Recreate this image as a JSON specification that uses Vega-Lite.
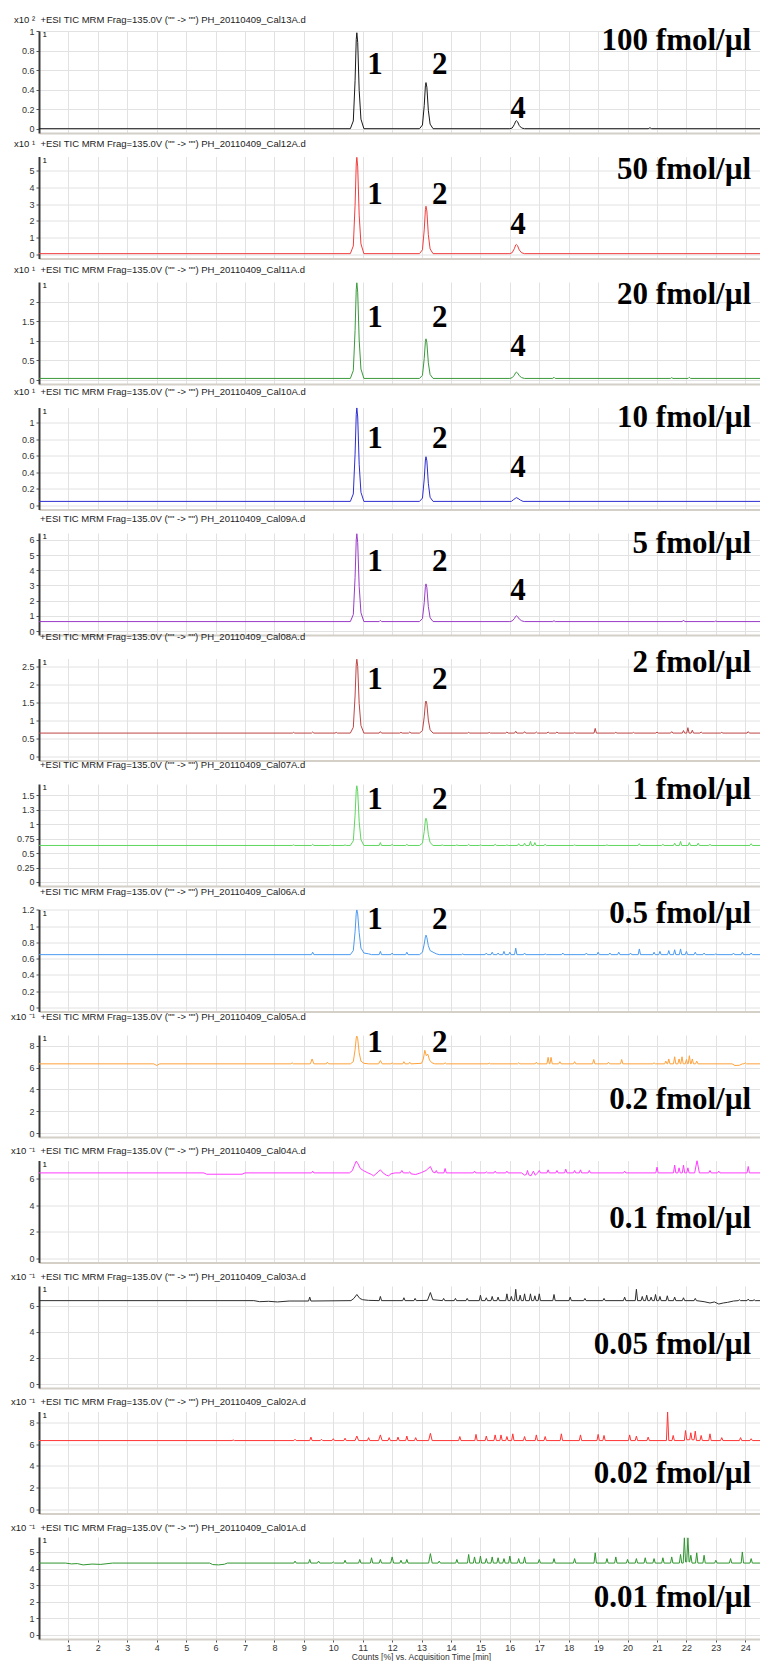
{
"$schema": "https://vega.github.io/schema/vega-lite/v6.json",
"background": "white",
"padding": {"left": 11, "top": 14, "right": 0, "bottom": 0},
"datasets": {
"p1": [{"t":0,"v":0.003},{"t":10.58,"v":0.003},{"t":10.68,"v":0.082},{"t":10.74,"v":0.494},{"t":10.78,"v":0.916},{"t":10.8,"v":0.985},{"t":10.83,"v":0.887},{"t":10.88,"v":0.396},{"t":10.94,"v":0.101},{"t":11.04,"v":0.003},{"t":12.93,"v":0.003},{"t":13.03,"v":0.041},{"t":13.09,"v":0.239},{"t":13.13,"v":0.442},{"t":13.15,"v":0.475},{"t":13.18,"v":0.428},{"t":13.23,"v":0.192},{"t":13.29,"v":0.05},{"t":13.39,"v":0.003},{"t":16.0,"v":0.003},{"t":16.08,"v":0.01},{"t":16.15,"v":0.045},{"t":16.2,"v":0.08},{"t":16.22,"v":0.085},{"t":16.26,"v":0.075},{"t":16.32,"v":0.035},{"t":16.4,"v":0.01},{"t":16.5,"v":0.003},{"t":20.7,"v":0.003},{"t":20.76,"v":0.012},{"t":20.82,"v":0.003},{"t":24.5,"v":0.003}],
"p2": [{"t":0,"v":0.05},{"t":10.58,"v":0.05},{"t":10.68,"v":0.51},{"t":10.74,"v":2.93},{"t":10.78,"v":5.4},{"t":10.8,"v":5.8},{"t":10.83,"v":5.23},{"t":10.88,"v":2.35},{"t":10.94,"v":0.63},{"t":11.04,"v":0.05},{"t":12.93,"v":0.05},{"t":13.03,"v":0.28},{"t":13.09,"v":1.47},{"t":13.13,"v":2.68},{"t":13.15,"v":2.88},{"t":13.18,"v":2.6},{"t":13.23,"v":1.18},{"t":13.29,"v":0.33},{"t":13.39,"v":0.05},{"t":16.0,"v":0.05},{"t":16.08,"v":0.11},{"t":16.15,"v":0.34},{"t":16.2,"v":0.57},{"t":16.22,"v":0.6},{"t":16.26,"v":0.53},{"t":16.32,"v":0.27},{"t":16.4,"v":0.1},{"t":16.5,"v":0.05},{"t":24.5,"v":0.05}],
"p3": [{"t":0,"v":0.04},{"t":10.58,"v":0.04},{"t":10.68,"v":0.24},{"t":10.74,"v":1.26},{"t":10.78,"v":2.31},{"t":10.8,"v":2.48},{"t":10.83,"v":2.24},{"t":10.88,"v":1.02},{"t":10.94,"v":0.28},{"t":11.04,"v":0.04},{"t":12.93,"v":0.04},{"t":13.03,"v":0.12},{"t":13.09,"v":0.55},{"t":13.13,"v":0.98},{"t":13.15,"v":1.05},{"t":13.18,"v":0.95},{"t":13.23,"v":0.44},{"t":13.29,"v":0.14},{"t":13.39,"v":0.04},{"t":16.0,"v":0.04},{"t":16.08,"v":0.06},{"t":16.15,"v":0.12},{"t":16.2,"v":0.19},{"t":16.22,"v":0.2},{"t":16.26,"v":0.18},{"t":16.32,"v":0.11},{"t":16.4,"v":0.06},{"t":16.5,"v":0.04},{"t":17.46,"v":0.04},{"t":17.5,"v":0.07},{"t":17.54,"v":0.04},{"t":21.46,"v":0.04},{"t":21.5,"v":0.06},{"t":21.54,"v":0.04},{"t":22.06,"v":0.04},{"t":22.1,"v":0.07},{"t":22.14,"v":0.04},{"t":24.5,"v":0.04}],
"p4": [{"t":0,"v":0.05},{"t":10.58,"v":0.05},{"t":10.68,"v":0.14},{"t":10.74,"v":0.62},{"t":10.78,"v":1.1},{"t":10.8,"v":1.18},{"t":10.83,"v":1.07},{"t":10.88,"v":0.5},{"t":10.94,"v":0.16},{"t":11.04,"v":0.05},{"t":12.93,"v":0.05},{"t":13.03,"v":0.09},{"t":13.09,"v":0.32},{"t":13.13,"v":0.55},{"t":13.15,"v":0.59},{"t":13.18,"v":0.54},{"t":13.23,"v":0.27},{"t":13.29,"v":0.1},{"t":13.39,"v":0.05},{"t":16.05,"v":0.05},{"t":16.12,"v":0.07},{"t":16.2,"v":0.09},{"t":16.22,"v":0.095},{"t":16.28,"v":0.085},{"t":16.36,"v":0.065},{"t":16.45,"v":0.05},{"t":24.5,"v":0.05}],
"p5": [{"t":0,"v":0.62},{"t":10.58,"v":0.62},{"t":10.68,"v":1.08},{"t":10.74,"v":3.51},{"t":10.78,"v":6.0},{"t":10.8,"v":6.4},{"t":10.83,"v":5.82},{"t":10.88,"v":2.93},{"t":10.94,"v":1.2},{"t":11.04,"v":0.62},{"t":11.56,"v":0.62},{"t":11.6,"v":0.7},{"t":11.64,"v":0.62},{"t":12.93,"v":0.62},{"t":13.03,"v":0.82},{"t":13.09,"v":1.86},{"t":13.13,"v":2.93},{"t":13.15,"v":3.1},{"t":13.18,"v":2.85},{"t":13.23,"v":1.61},{"t":13.29,"v":0.87},{"t":13.39,"v":0.62},{"t":16.0,"v":0.62},{"t":16.08,"v":0.66},{"t":16.15,"v":0.81},{"t":16.2,"v":0.97},{"t":16.22,"v":1.0},{"t":16.26,"v":0.95},{"t":16.32,"v":0.79},{"t":16.4,"v":0.67},{"t":16.5,"v":0.62},{"t":17.46,"v":0.62},{"t":17.5,"v":0.68},{"t":17.54,"v":0.62},{"t":21.86,"v":0.62},{"t":21.9,"v":0.72},{"t":21.94,"v":0.62},{"t":22.96,"v":0.62},{"t":23.0,"v":0.66},{"t":23.04,"v":0.62},{"t":24.5,"v":0.62}],
"p6": [{"t":0,"v":0.65},{"t":8.61,"v":0.65},{"t":8.65,"v":0.67},{"t":8.69,"v":0.65},{"t":9.26,"v":0.65},{"t":9.3,"v":0.68},{"t":9.34,"v":0.65},{"t":10.06,"v":0.65},{"t":10.1,"v":0.67},{"t":10.14,"v":0.65},{"t":10.58,"v":0.65},{"t":10.68,"v":0.81},{"t":10.74,"v":1.68},{"t":10.78,"v":2.56},{"t":10.8,"v":2.7},{"t":10.83,"v":2.5},{"t":10.88,"v":1.47},{"t":10.94,"v":0.86},{"t":11.04,"v":0.65},{"t":11.56,"v":0.65},{"t":11.6,"v":0.69},{"t":11.64,"v":0.65},{"t":12.26,"v":0.65},{"t":12.3,"v":0.67},{"t":12.34,"v":0.65},{"t":12.56,"v":0.65},{"t":12.6,"v":0.68},{"t":12.64,"v":0.65},{"t":12.93,"v":0.65},{"t":13.03,"v":0.72},{"t":13.09,"v":1.1},{"t":13.13,"v":1.48},{"t":13.15,"v":1.54},{"t":13.18,"v":1.45},{"t":13.23,"v":1.01},{"t":13.29,"v":0.74},{"t":13.39,"v":0.65},{"t":14.56,"v":0.65},{"t":14.6,"v":0.67},{"t":14.64,"v":0.65},{"t":15.26,"v":0.65},{"t":15.3,"v":0.67},{"t":15.34,"v":0.65},{"t":15.86,"v":0.65},{"t":15.9,"v":0.68},{"t":15.94,"v":0.65},{"t":16.16,"v":0.65},{"t":16.2,"v":0.7},{"t":16.24,"v":0.65},{"t":16.46,"v":0.65},{"t":16.5,"v":0.69},{"t":16.54,"v":0.65},{"t":16.86,"v":0.65},{"t":16.9,"v":0.68},{"t":16.94,"v":0.65},{"t":17.26,"v":0.65},{"t":17.3,"v":0.68},{"t":17.34,"v":0.65},{"t":17.56,"v":0.65},{"t":17.6,"v":0.68},{"t":17.64,"v":0.65},{"t":18.16,"v":0.65},{"t":18.2,"v":0.67},{"t":18.24,"v":0.65},{"t":18.86,"v":0.65},{"t":18.9,"v":0.78},{"t":18.94,"v":0.65},{"t":19.56,"v":0.65},{"t":19.6,"v":0.67},{"t":19.64,"v":0.65},{"t":20.16,"v":0.65},{"t":20.2,"v":0.67},{"t":20.24,"v":0.65},{"t":20.96,"v":0.65},{"t":21.0,"v":0.68},{"t":21.04,"v":0.65},{"t":21.46,"v":0.65},{"t":21.5,"v":0.69},{"t":21.54,"v":0.65},{"t":21.86,"v":0.65},{"t":21.9,"v":0.72},{"t":21.94,"v":0.65},{"t":22.01,"v":0.65},{"t":22.05,"v":0.8},{"t":22.09,"v":0.65},{"t":22.16,"v":0.65},{"t":22.2,"v":0.73},{"t":22.24,"v":0.65},{"t":22.46,"v":0.65},{"t":22.5,"v":0.68},{"t":22.54,"v":0.65},{"t":23.16,"v":0.65},{"t":23.2,"v":0.67},{"t":23.24,"v":0.65},{"t":24.06,"v":0.65},{"t":24.1,"v":0.69},{"t":24.14,"v":0.65},{"t":24.5,"v":0.65}],
"p7": [{"t":0,"v":0.63},{"t":8.61,"v":0.63},{"t":8.65,"v":0.64},{"t":8.69,"v":0.63},{"t":9.26,"v":0.63},{"t":9.3,"v":0.65},{"t":9.34,"v":0.63},{"t":9.86,"v":0.63},{"t":9.9,"v":0.64},{"t":9.94,"v":0.63},{"t":10.36,"v":0.63},{"t":10.4,"v":0.64},{"t":10.44,"v":0.63},{"t":10.58,"v":0.63},{"t":10.68,"v":0.71},{"t":10.74,"v":1.15},{"t":10.78,"v":1.59},{"t":10.8,"v":1.66},{"t":10.83,"v":1.56},{"t":10.88,"v":1.04},{"t":10.94,"v":0.73},{"t":11.04,"v":0.63},{"t":11.56,"v":0.63},{"t":11.6,"v":0.68},{"t":11.64,"v":0.63},{"t":11.96,"v":0.63},{"t":12.0,"v":0.65},{"t":12.04,"v":0.63},{"t":12.46,"v":0.63},{"t":12.5,"v":0.65},{"t":12.54,"v":0.63},{"t":12.93,"v":0.63},{"t":13.03,"v":0.67},{"t":13.09,"v":0.87},{"t":13.13,"v":1.07},{"t":13.15,"v":1.1},{"t":13.18,"v":1.05},{"t":13.23,"v":0.82},{"t":13.29,"v":0.68},{"t":13.39,"v":0.63},{"t":13.66,"v":0.63},{"t":13.7,"v":0.64},{"t":13.74,"v":0.63},{"t":14.16,"v":0.63},{"t":14.2,"v":0.64},{"t":14.24,"v":0.63},{"t":14.56,"v":0.63},{"t":14.6,"v":0.65},{"t":14.64,"v":0.63},{"t":14.96,"v":0.63},{"t":15.0,"v":0.64},{"t":15.04,"v":0.63},{"t":15.46,"v":0.63},{"t":15.5,"v":0.65},{"t":15.54,"v":0.63},{"t":15.86,"v":0.63},{"t":15.9,"v":0.64},{"t":15.94,"v":0.63},{"t":16.26,"v":0.63},{"t":16.3,"v":0.66},{"t":16.34,"v":0.63},{"t":16.46,"v":0.63},{"t":16.5,"v":0.67},{"t":16.54,"v":0.63},{"t":16.66,"v":0.63},{"t":16.7,"v":0.7},{"t":16.74,"v":0.63},{"t":16.81,"v":0.63},{"t":16.85,"v":0.68},{"t":16.89,"v":0.63},{"t":17.16,"v":0.63},{"t":17.2,"v":0.65},{"t":17.24,"v":0.63},{"t":18.16,"v":0.63},{"t":18.2,"v":0.64},{"t":18.24,"v":0.63},{"t":19.26,"v":0.63},{"t":19.3,"v":0.64},{"t":19.34,"v":0.63},{"t":20.36,"v":0.63},{"t":20.4,"v":0.66},{"t":20.44,"v":0.63},{"t":21.16,"v":0.63},{"t":21.2,"v":0.65},{"t":21.24,"v":0.63},{"t":21.56,"v":0.63},{"t":21.6,"v":0.67},{"t":21.64,"v":0.63},{"t":21.76,"v":0.63},{"t":21.8,"v":0.7},{"t":21.84,"v":0.63},{"t":22.06,"v":0.63},{"t":22.1,"v":0.68},{"t":22.14,"v":0.63},{"t":22.36,"v":0.63},{"t":22.4,"v":0.67},{"t":22.44,"v":0.63},{"t":22.76,"v":0.63},{"t":22.8,"v":0.65},{"t":22.84,"v":0.63},{"t":24.16,"v":0.63},{"t":24.2,"v":0.66},{"t":24.24,"v":0.63},{"t":24.5,"v":0.63}],
"p8": [{"t":0,"v":0.65},{"t":9.26,"v":0.65},{"t":9.3,"v":0.68},{"t":9.34,"v":0.65},{"t":10.58,"v":0.65},{"t":10.68,"v":0.7},{"t":10.74,"v":0.93},{"t":10.78,"v":1.16},{"t":10.8,"v":1.2},{"t":10.83,"v":1.15},{"t":10.88,"v":0.92},{"t":10.94,"v":0.73},{"t":11.04,"v":0.67},{"t":11.2,"v":0.66},{"t":11.3,"v":0.65},{"t":11.56,"v":0.65},{"t":11.6,"v":0.69},{"t":11.64,"v":0.65},{"t":11.96,"v":0.65},{"t":12.0,"v":0.67},{"t":12.04,"v":0.65},{"t":12.46,"v":0.65},{"t":12.5,"v":0.68},{"t":12.54,"v":0.65},{"t":12.93,"v":0.65},{"t":13.03,"v":0.68},{"t":13.09,"v":0.78},{"t":13.13,"v":0.87},{"t":13.15,"v":0.89},{"t":13.18,"v":0.86},{"t":13.23,"v":0.76},{"t":13.29,"v":0.7},{"t":13.39,"v":0.68},{"t":13.5,"v":0.66},{"t":13.6,"v":0.65},{"t":14.36,"v":0.65},{"t":14.4,"v":0.66},{"t":14.44,"v":0.65},{"t":15.16,"v":0.65},{"t":15.2,"v":0.67},{"t":15.24,"v":0.65},{"t":15.36,"v":0.65},{"t":15.4,"v":0.68},{"t":15.44,"v":0.65},{"t":15.56,"v":0.65},{"t":15.6,"v":0.67},{"t":15.64,"v":0.65},{"t":15.76,"v":0.65},{"t":15.8,"v":0.69},{"t":15.84,"v":0.65},{"t":15.96,"v":0.65},{"t":16.0,"v":0.68},{"t":16.04,"v":0.65},{"t":16.16,"v":0.65},{"t":16.2,"v":0.73},{"t":16.24,"v":0.65},{"t":16.46,"v":0.65},{"t":16.5,"v":0.67},{"t":16.54,"v":0.65},{"t":17.16,"v":0.65},{"t":17.2,"v":0.66},{"t":17.24,"v":0.65},{"t":17.76,"v":0.65},{"t":17.8,"v":0.67},{"t":17.84,"v":0.65},{"t":18.56,"v":0.65},{"t":18.6,"v":0.67},{"t":18.64,"v":0.65},{"t":18.96,"v":0.65},{"t":19.0,"v":0.68},{"t":19.04,"v":0.65},{"t":19.36,"v":0.65},{"t":19.4,"v":0.67},{"t":19.44,"v":0.65},{"t":19.66,"v":0.65},{"t":19.7,"v":0.68},{"t":19.74,"v":0.65},{"t":20.06,"v":0.65},{"t":20.1,"v":0.67},{"t":20.14,"v":0.65},{"t":20.36,"v":0.65},{"t":20.4,"v":0.72},{"t":20.44,"v":0.65},{"t":20.86,"v":0.65},{"t":20.9,"v":0.68},{"t":20.94,"v":0.65},{"t":21.06,"v":0.65},{"t":21.1,"v":0.69},{"t":21.14,"v":0.65},{"t":21.36,"v":0.65},{"t":21.4,"v":0.7},{"t":21.44,"v":0.65},{"t":21.56,"v":0.65},{"t":21.6,"v":0.71},{"t":21.64,"v":0.65},{"t":21.76,"v":0.65},{"t":21.8,"v":0.72},{"t":21.84,"v":0.65},{"t":21.96,"v":0.65},{"t":22.0,"v":0.69},{"t":22.04,"v":0.65},{"t":22.26,"v":0.65},{"t":22.3,"v":0.68},{"t":22.34,"v":0.65},{"t":22.56,"v":0.65},{"t":22.6,"v":0.67},{"t":22.64,"v":0.65},{"t":22.96,"v":0.65},{"t":23.0,"v":0.66},{"t":23.04,"v":0.65},{"t":23.56,"v":0.65},{"t":23.6,"v":0.67},{"t":23.64,"v":0.65},{"t":23.86,"v":0.65},{"t":23.9,"v":0.68},{"t":23.94,"v":0.65},{"t":24.16,"v":0.65},{"t":24.2,"v":0.67},{"t":24.24,"v":0.65},{"t":24.5,"v":0.65}],
"p9": [{"t":0,"v":6.35},{"t":3.9,"v":6.35},{"t":4.0,"v":6.2},{"t":4.1,"v":6.35},{"t":8.56,"v":6.35},{"t":8.6,"v":6.45},{"t":8.64,"v":6.35},{"t":9.22,"v":6.35},{"t":9.28,"v":6.8},{"t":9.34,"v":6.35},{"t":9.76,"v":6.35},{"t":9.8,"v":6.5},{"t":9.84,"v":6.35},{"t":10.58,"v":6.35},{"t":10.68,"v":6.55},{"t":10.74,"v":7.63},{"t":10.78,"v":8.72},{"t":10.8,"v":8.9},{"t":10.83,"v":8.65},{"t":10.88,"v":7.37},{"t":10.94,"v":6.6},{"t":11.04,"v":6.4},{"t":11.2,"v":6.35},{"t":11.54,"v":6.35},{"t":11.6,"v":6.65},{"t":11.66,"v":6.35},{"t":11.96,"v":6.35},{"t":12.0,"v":6.45},{"t":12.04,"v":6.35},{"t":12.36,"v":6.35},{"t":12.4,"v":6.55},{"t":12.44,"v":6.35},{"t":12.56,"v":6.35},{"t":12.6,"v":6.5},{"t":12.64,"v":6.35},{"t":13.0,"v":6.4},{"t":13.06,"v":6.8},{"t":13.11,"v":7.6},{"t":13.16,"v":7.1},{"t":13.21,"v":7.25},{"t":13.27,"v":6.7},{"t":13.35,"v":6.45},{"t":13.45,"v":6.35},{"t":13.76,"v":6.35},{"t":13.8,"v":6.45},{"t":13.84,"v":6.35},{"t":15.26,"v":6.35},{"t":15.3,"v":6.42},{"t":15.34,"v":6.35},{"t":16.26,"v":6.35},{"t":16.3,"v":6.45},{"t":16.34,"v":6.35},{"t":16.86,"v":6.35},{"t":16.9,"v":6.5},{"t":16.94,"v":6.35},{"t":17.26,"v":6.35},{"t":17.3,"v":6.95},{"t":17.34,"v":6.35},{"t":17.36,"v":6.35},{"t":17.4,"v":6.95},{"t":17.44,"v":6.35},{"t":17.66,"v":6.35},{"t":17.7,"v":6.55},{"t":17.74,"v":6.35},{"t":18.16,"v":6.35},{"t":18.2,"v":6.55},{"t":18.24,"v":6.35},{"t":18.81,"v":6.35},{"t":18.85,"v":6.75},{"t":18.89,"v":6.35},{"t":19.31,"v":6.35},{"t":19.35,"v":6.5},{"t":19.39,"v":6.35},{"t":19.76,"v":6.35},{"t":19.8,"v":6.75},{"t":19.84,"v":6.35},{"t":20.86,"v":6.35},{"t":20.9,"v":6.45},{"t":20.94,"v":6.35},{"t":21.26,"v":6.35},{"t":21.3,"v":6.6},{"t":21.34,"v":6.35},{"t":21.36,"v":6.35},{"t":21.4,"v":6.8},{"t":21.44,"v":6.35},{"t":21.56,"v":6.35},{"t":21.6,"v":7.0},{"t":21.64,"v":6.35},{"t":21.71,"v":6.35},{"t":21.75,"v":6.8},{"t":21.79,"v":6.35},{"t":21.81,"v":6.35},{"t":21.85,"v":7.0},{"t":21.89,"v":6.35},{"t":21.96,"v":6.35},{"t":22.0,"v":6.75},{"t":22.04,"v":6.35},{"t":22.06,"v":6.35},{"t":22.1,"v":7.1},{"t":22.14,"v":6.35},{"t":22.16,"v":6.35},{"t":22.2,"v":6.8},{"t":22.24,"v":6.35},{"t":22.31,"v":6.35},{"t":22.35,"v":6.6},{"t":22.39,"v":6.35},{"t":23.55,"v":6.35},{"t":23.65,"v":6.2},{"t":23.8,"v":6.22},{"t":23.9,"v":6.35},{"t":23.96,"v":6.35},{"t":24.0,"v":6.45},{"t":24.04,"v":6.35},{"t":24.5,"v":6.35}],
"p10": [{"t":0,"v":6.42},{"t":5.6,"v":6.42},{"t":5.7,"v":6.32},{"t":6.9,"v":6.32},{"t":7.0,"v":6.42},{"t":9.26,"v":6.42},{"t":9.3,"v":6.55},{"t":9.34,"v":6.42},{"t":10.55,"v":6.42},{"t":10.65,"v":6.6},{"t":10.72,"v":7.0},{"t":10.78,"v":7.3},{"t":10.84,"v":7.1},{"t":10.92,"v":6.75},{"t":11.02,"v":6.6},{"t":11.15,"v":6.45},{"t":11.3,"v":6.3},{"t":11.37,"v":6.2},{"t":11.45,"v":6.35},{"t":11.55,"v":6.55},{"t":11.6,"v":6.65},{"t":11.7,"v":6.4},{"t":11.8,"v":6.25},{"t":11.88,"v":6.2},{"t":11.96,"v":6.35},{"t":12.1,"v":6.42},{"t":12.28,"v":6.42},{"t":12.33,"v":6.6},{"t":12.38,"v":6.42},{"t":12.56,"v":6.42},{"t":12.6,"v":6.5},{"t":12.64,"v":6.35},{"t":12.8,"v":6.3},{"t":13.0,"v":6.45},{"t":13.15,"v":6.6},{"t":13.3,"v":6.9},{"t":13.38,"v":6.5},{"t":13.46,"v":6.42},{"t":13.5,"v":6.6},{"t":13.54,"v":6.42},{"t":13.76,"v":6.42},{"t":13.8,"v":6.75},{"t":13.84,"v":6.42},{"t":14.76,"v":6.42},{"t":14.8,"v":6.55},{"t":14.84,"v":6.42},{"t":15.16,"v":6.42},{"t":15.2,"v":6.5},{"t":15.24,"v":6.42},{"t":15.46,"v":6.42},{"t":15.5,"v":6.55},{"t":15.54,"v":6.42},{"t":15.86,"v":6.42},{"t":15.9,"v":6.55},{"t":15.94,"v":6.42},{"t":16.4,"v":6.42},{"t":16.5,"v":6.25},{"t":16.56,"v":6.3},{"t":16.6,"v":6.6},{"t":16.64,"v":6.28},{"t":16.72,"v":6.2},{"t":16.8,"v":6.55},{"t":16.86,"v":6.25},{"t":16.95,"v":6.42},{"t":17.0,"v":6.6},{"t":17.04,"v":6.42},{"t":17.26,"v":6.42},{"t":17.3,"v":6.65},{"t":17.34,"v":6.42},{"t":17.56,"v":6.42},{"t":17.6,"v":6.6},{"t":17.64,"v":6.42},{"t":17.86,"v":6.42},{"t":17.9,"v":6.7},{"t":17.94,"v":6.42},{"t":18.16,"v":6.42},{"t":18.2,"v":6.6},{"t":18.24,"v":6.42},{"t":18.36,"v":6.42},{"t":18.4,"v":6.65},{"t":18.44,"v":6.42},{"t":18.66,"v":6.42},{"t":18.7,"v":6.6},{"t":18.74,"v":6.42},{"t":19.86,"v":6.42},{"t":19.9,"v":6.55},{"t":19.94,"v":6.42},{"t":20.96,"v":6.42},{"t":21.0,"v":6.85},{"t":21.04,"v":6.42},{"t":21.56,"v":6.42},{"t":21.6,"v":7.0},{"t":21.64,"v":6.42},{"t":21.71,"v":6.42},{"t":21.75,"v":6.8},{"t":21.79,"v":6.42},{"t":21.86,"v":6.42},{"t":21.9,"v":7.0},{"t":21.94,"v":6.42},{"t":22.01,"v":6.42},{"t":22.05,"v":6.8},{"t":22.09,"v":6.42},{"t":22.28,"v":6.42},{"t":22.36,"v":7.35},{"t":22.44,"v":6.42},{"t":22.76,"v":6.42},{"t":22.8,"v":6.6},{"t":22.84,"v":6.42},{"t":23.06,"v":6.42},{"t":23.1,"v":6.55},{"t":23.14,"v":6.42},{"t":24.06,"v":6.42},{"t":24.1,"v":6.9},{"t":24.14,"v":6.42},{"t":24.5,"v":6.42}],
"p11": [{"t":0,"v":6.38},{"t":7.3,"v":6.38},{"t":7.5,"v":6.3},{"t":7.8,"v":6.33},{"t":8.1,"v":6.28},{"t":8.5,"v":6.35},{"t":9.16,"v":6.35},{"t":9.2,"v":6.65},{"t":9.24,"v":6.35},{"t":10.6,"v":6.38},{"t":10.7,"v":6.55},{"t":10.8,"v":6.85},{"t":10.9,"v":6.55},{"t":11.0,"v":6.45},{"t":11.2,"v":6.4},{"t":11.56,"v":6.38},{"t":11.6,"v":6.7},{"t":11.64,"v":6.38},{"t":12.36,"v":6.38},{"t":12.4,"v":6.6},{"t":12.44,"v":6.38},{"t":12.74,"v":6.38},{"t":12.78,"v":6.55},{"t":12.82,"v":6.38},{"t":13.2,"v":6.4},{"t":13.3,"v":7.0},{"t":13.38,"v":6.45},{"t":13.71,"v":6.38},{"t":13.75,"v":6.55},{"t":13.79,"v":6.38},{"t":14.11,"v":6.38},{"t":14.15,"v":6.55},{"t":14.19,"v":6.38},{"t":14.51,"v":6.38},{"t":14.55,"v":6.55},{"t":14.59,"v":6.38},{"t":14.96,"v":6.38},{"t":15.0,"v":6.8},{"t":15.04,"v":6.38},{"t":15.16,"v":6.38},{"t":15.2,"v":6.6},{"t":15.24,"v":6.38},{"t":15.36,"v":6.38},{"t":15.4,"v":6.7},{"t":15.44,"v":6.38},{"t":15.56,"v":6.38},{"t":15.6,"v":6.65},{"t":15.64,"v":6.38},{"t":15.86,"v":6.38},{"t":15.9,"v":6.9},{"t":15.94,"v":6.38},{"t":16.01,"v":6.38},{"t":16.05,"v":6.7},{"t":16.09,"v":6.38},{"t":16.16,"v":6.38},{"t":16.2,"v":7.25},{"t":16.24,"v":6.38},{"t":16.31,"v":6.38},{"t":16.35,"v":6.8},{"t":16.39,"v":6.38},{"t":16.46,"v":6.38},{"t":16.5,"v":6.9},{"t":16.54,"v":6.38},{"t":16.66,"v":6.38},{"t":16.7,"v":6.9},{"t":16.74,"v":6.38},{"t":16.81,"v":6.38},{"t":16.85,"v":6.75},{"t":16.89,"v":6.38},{"t":16.96,"v":6.38},{"t":17.0,"v":6.9},{"t":17.04,"v":6.38},{"t":17.46,"v":6.38},{"t":17.5,"v":6.85},{"t":17.54,"v":6.38},{"t":18.01,"v":6.38},{"t":18.05,"v":6.65},{"t":18.09,"v":6.38},{"t":18.51,"v":6.38},{"t":18.55,"v":6.55},{"t":18.59,"v":6.38},{"t":19.16,"v":6.38},{"t":19.2,"v":6.55},{"t":19.24,"v":6.38},{"t":19.86,"v":6.38},{"t":19.9,"v":6.65},{"t":19.94,"v":6.38},{"t":20.26,"v":6.38},{"t":20.3,"v":7.25},{"t":20.34,"v":6.38},{"t":20.46,"v":6.38},{"t":20.5,"v":6.7},{"t":20.54,"v":6.38},{"t":20.61,"v":6.38},{"t":20.65,"v":6.8},{"t":20.69,"v":6.38},{"t":20.76,"v":6.38},{"t":20.8,"v":6.65},{"t":20.84,"v":6.38},{"t":20.91,"v":6.38},{"t":20.95,"v":6.85},{"t":20.99,"v":6.38},{"t":21.06,"v":6.38},{"t":21.1,"v":6.7},{"t":21.14,"v":6.38},{"t":21.31,"v":6.38},{"t":21.35,"v":6.75},{"t":21.39,"v":6.38},{"t":21.56,"v":6.38},{"t":21.6,"v":6.65},{"t":21.64,"v":6.38},{"t":21.86,"v":6.38},{"t":21.9,"v":6.6},{"t":21.94,"v":6.38},{"t":22.26,"v":6.38},{"t":22.3,"v":6.55},{"t":22.34,"v":6.38},{"t":22.6,"v":6.3},{"t":22.8,"v":6.2},{"t":22.95,"v":6.28},{"t":23.1,"v":6.12},{"t":23.25,"v":6.2},{"t":23.4,"v":6.25},{"t":23.6,"v":6.35},{"t":23.76,"v":6.38},{"t":23.8,"v":6.45},{"t":23.84,"v":6.38},{"t":24.06,"v":6.38},{"t":24.1,"v":6.5},{"t":24.14,"v":6.38},{"t":24.26,"v":6.38},{"t":24.3,"v":6.45},{"t":24.34,"v":6.38},{"t":24.5,"v":6.38}],
"p12": [{"t":0,"v":6.33},{"t":6.56,"v":6.33},{"t":6.6,"v":6.38},{"t":6.64,"v":6.33},{"t":8.66,"v":6.33},{"t":8.7,"v":6.45},{"t":8.74,"v":6.33},{"t":9.2,"v":6.33},{"t":9.24,"v":6.65},{"t":9.28,"v":6.33},{"t":9.56,"v":6.33},{"t":9.6,"v":6.45},{"t":9.64,"v":6.33},{"t":9.96,"v":6.33},{"t":10.0,"v":6.5},{"t":10.04,"v":6.33},{"t":10.36,"v":6.33},{"t":10.4,"v":6.55},{"t":10.44,"v":6.33},{"t":10.74,"v":6.33},{"t":10.8,"v":6.75},{"t":10.86,"v":6.33},{"t":11.16,"v":6.33},{"t":11.2,"v":6.6},{"t":11.24,"v":6.33},{"t":11.54,"v":6.33},{"t":11.6,"v":6.85},{"t":11.66,"v":6.33},{"t":11.86,"v":6.33},{"t":11.9,"v":6.6},{"t":11.94,"v":6.33},{"t":12.16,"v":6.33},{"t":12.2,"v":6.65},{"t":12.24,"v":6.33},{"t":12.46,"v":6.33},{"t":12.5,"v":6.75},{"t":12.54,"v":6.33},{"t":12.76,"v":6.33},{"t":12.8,"v":6.6},{"t":12.84,"v":6.33},{"t":13.24,"v":6.33},{"t":13.3,"v":7.0},{"t":13.36,"v":6.33},{"t":14.26,"v":6.33},{"t":14.3,"v":6.7},{"t":14.34,"v":6.33},{"t":14.81,"v":6.33},{"t":14.85,"v":6.9},{"t":14.89,"v":6.33},{"t":15.16,"v":6.33},{"t":15.2,"v":6.75},{"t":15.24,"v":6.33},{"t":15.46,"v":6.33},{"t":15.5,"v":6.85},{"t":15.54,"v":6.33},{"t":15.66,"v":6.33},{"t":15.7,"v":6.85},{"t":15.74,"v":6.33},{"t":15.86,"v":6.33},{"t":15.9,"v":6.7},{"t":15.94,"v":6.33},{"t":16.06,"v":6.33},{"t":16.1,"v":6.95},{"t":16.14,"v":6.33},{"t":16.46,"v":6.33},{"t":16.5,"v":6.7},{"t":16.54,"v":6.33},{"t":16.86,"v":6.33},{"t":16.9,"v":6.85},{"t":16.94,"v":6.33},{"t":17.16,"v":6.33},{"t":17.2,"v":6.7},{"t":17.24,"v":6.33},{"t":17.71,"v":6.33},{"t":17.75,"v":6.95},{"t":17.79,"v":6.33},{"t":18.36,"v":6.33},{"t":18.4,"v":6.85},{"t":18.44,"v":6.33},{"t":18.96,"v":6.33},{"t":19.0,"v":6.9},{"t":19.04,"v":6.33},{"t":19.16,"v":6.33},{"t":19.2,"v":6.8},{"t":19.24,"v":6.33},{"t":20.03,"v":6.33},{"t":20.07,"v":6.85},{"t":20.11,"v":6.33},{"t":20.26,"v":6.33},{"t":20.3,"v":6.75},{"t":20.34,"v":6.33},{"t":20.66,"v":6.33},{"t":20.7,"v":6.65},{"t":20.74,"v":6.33},{"t":21.32,"v":6.33},{"t":21.36,"v":8.95},{"t":21.4,"v":6.33},{"t":21.51,"v":6.33},{"t":21.55,"v":6.8},{"t":21.59,"v":6.33},{"t":21.93,"v":6.33},{"t":21.97,"v":7.25},{"t":22.01,"v":6.4},{"t":22.11,"v":6.4},{"t":22.15,"v":7.05},{"t":22.19,"v":6.4},{"t":22.26,"v":6.4},{"t":22.3,"v":7.2},{"t":22.34,"v":6.33},{"t":22.46,"v":6.33},{"t":22.5,"v":6.8},{"t":22.54,"v":6.33},{"t":22.76,"v":6.33},{"t":22.8,"v":6.95},{"t":22.84,"v":6.33},{"t":23.16,"v":6.33},{"t":23.2,"v":6.6},{"t":23.24,"v":6.33},{"t":23.8,"v":6.33},{"t":23.84,"v":6.6},{"t":23.88,"v":6.33},{"t":24.16,"v":6.33},{"t":24.2,"v":6.5},{"t":24.24,"v":6.33},{"t":24.5,"v":6.33}],
"p13": [{"t":0,"v":4.33},{"t":0.9,"v":4.33},{"t":1.1,"v":4.28},{"t":1.3,"v":4.3},{"t":1.5,"v":4.22},{"t":1.8,"v":4.27},{"t":2.1,"v":4.25},{"t":2.5,"v":4.33},{"t":5.8,"v":4.33},{"t":5.9,"v":4.24},{"t":6.1,"v":4.22},{"t":6.3,"v":4.26},{"t":6.4,"v":4.33},{"t":8.66,"v":4.33},{"t":8.7,"v":4.45},{"t":8.74,"v":4.33},{"t":9.16,"v":4.33},{"t":9.2,"v":4.55},{"t":9.24,"v":4.33},{"t":9.46,"v":4.33},{"t":9.5,"v":4.45},{"t":9.54,"v":4.33},{"t":9.96,"v":4.33},{"t":10.0,"v":4.4},{"t":10.04,"v":4.33},{"t":10.36,"v":4.33},{"t":10.4,"v":4.5},{"t":10.44,"v":4.33},{"t":10.86,"v":4.33},{"t":10.9,"v":4.55},{"t":10.94,"v":4.33},{"t":11.26,"v":4.33},{"t":11.3,"v":4.65},{"t":11.34,"v":4.33},{"t":11.56,"v":4.33},{"t":11.6,"v":4.55},{"t":11.64,"v":4.33},{"t":11.95,"v":4.33},{"t":12.0,"v":4.7},{"t":12.05,"v":4.33},{"t":12.26,"v":4.33},{"t":12.3,"v":4.5},{"t":12.34,"v":4.33},{"t":12.46,"v":4.33},{"t":12.5,"v":4.55},{"t":12.54,"v":4.33},{"t":13.24,"v":4.33},{"t":13.3,"v":4.9},{"t":13.36,"v":4.33},{"t":13.56,"v":4.33},{"t":13.6,"v":4.45},{"t":13.64,"v":4.33},{"t":14.16,"v":4.33},{"t":14.2,"v":4.55},{"t":14.24,"v":4.33},{"t":14.56,"v":4.33},{"t":14.6,"v":4.85},{"t":14.64,"v":4.33},{"t":14.76,"v":4.33},{"t":14.8,"v":4.7},{"t":14.84,"v":4.33},{"t":14.96,"v":4.33},{"t":15.0,"v":4.75},{"t":15.04,"v":4.33},{"t":15.16,"v":4.33},{"t":15.2,"v":4.6},{"t":15.24,"v":4.33},{"t":15.36,"v":4.33},{"t":15.4,"v":4.7},{"t":15.44,"v":4.33},{"t":15.56,"v":4.33},{"t":15.6,"v":4.65},{"t":15.64,"v":4.33},{"t":15.76,"v":4.33},{"t":15.8,"v":4.6},{"t":15.84,"v":4.33},{"t":15.96,"v":4.33},{"t":16.0,"v":4.75},{"t":16.04,"v":4.33},{"t":16.26,"v":4.33},{"t":16.3,"v":4.6},{"t":16.34,"v":4.33},{"t":16.46,"v":4.33},{"t":16.5,"v":4.7},{"t":16.54,"v":4.33},{"t":16.96,"v":4.33},{"t":17.0,"v":4.55},{"t":17.04,"v":4.33},{"t":17.46,"v":4.33},{"t":17.5,"v":4.6},{"t":17.54,"v":4.33},{"t":18.16,"v":4.33},{"t":18.2,"v":4.6},{"t":18.24,"v":4.33},{"t":18.86,"v":4.33},{"t":18.9,"v":4.95},{"t":18.94,"v":4.33},{"t":19.26,"v":4.33},{"t":19.3,"v":4.6},{"t":19.34,"v":4.33},{"t":19.56,"v":4.33},{"t":19.6,"v":4.7},{"t":19.64,"v":4.33},{"t":19.96,"v":4.33},{"t":20.0,"v":4.55},{"t":20.04,"v":4.33},{"t":20.26,"v":4.33},{"t":20.3,"v":4.6},{"t":20.34,"v":4.33},{"t":20.56,"v":4.33},{"t":20.6,"v":4.65},{"t":20.64,"v":4.33},{"t":20.86,"v":4.33},{"t":20.9,"v":4.6},{"t":20.94,"v":4.33},{"t":21.16,"v":4.33},{"t":21.2,"v":4.65},{"t":21.24,"v":4.33},{"t":21.46,"v":4.33},{"t":21.5,"v":4.7},{"t":21.54,"v":4.33},{"t":21.76,"v":4.33},{"t":21.8,"v":4.85},{"t":21.84,"v":4.33},{"t":21.89,"v":4.33},{"t":21.93,"v":5.85},{"t":21.97,"v":4.4},{"t":22.01,"v":4.4},{"t":22.05,"v":5.85},{"t":22.09,"v":4.4},{"t":22.11,"v":4.4},{"t":22.15,"v":4.8},{"t":22.19,"v":4.33},{"t":22.31,"v":4.33},{"t":22.35,"v":4.95},{"t":22.39,"v":4.33},{"t":22.56,"v":4.33},{"t":22.6,"v":4.8},{"t":22.64,"v":4.33},{"t":22.96,"v":4.33},{"t":23.0,"v":4.5},{"t":23.04,"v":4.33},{"t":23.46,"v":4.33},{"t":23.5,"v":4.6},{"t":23.54,"v":4.33},{"t":23.86,"v":4.33},{"t":23.9,"v":5.0},{"t":23.94,"v":4.33},{"t":24.16,"v":4.33},{"t":24.2,"v":4.6},{"t":24.24,"v":4.33},{"t":24.5,"v":4.33}],
"lab": [
{"p":1,"k":"n","t":11.42,"v":0.655,"s":"1"},{"p":1,"k":"n","t":13.62,"v":0.655,"s":"2"},{"p":1,"k":"n","t":16.28,"v":0.2,"s":"4"},{"p":1,"k":"c","t":24.2,"v":0.9,"s":"100 fmol/µl"},{"p":1,"k":"g","t":0.12,"v":1.003,"s":"1"},
{"p":2,"k":"n","t":11.42,"v":3.56,"s":"1"},{"p":2,"k":"n","t":13.62,"v":3.56,"s":"2"},{"p":2,"k":"n","t":16.28,"v":1.75,"s":"4"},{"p":2,"k":"c","t":24.2,"v":5.06,"s":"50 fmol/µl"},{"p":2,"k":"g","t":0.12,"v":5.85,"s":"1"},
{"p":3,"k":"n","t":11.42,"v":1.57,"s":"1"},{"p":3,"k":"n","t":13.62,"v":1.57,"s":"2"},{"p":3,"k":"n","t":16.28,"v":0.84,"s":"4"},{"p":3,"k":"c","t":24.2,"v":2.16,"s":"20 fmol/µl"},{"p":3,"k":"g","t":0.12,"v":2.5,"s":"1"},
{"p":4,"k":"n","t":11.42,"v":0.81,"s":"1"},{"p":4,"k":"n","t":13.62,"v":0.81,"s":"2"},{"p":4,"k":"n","t":16.28,"v":0.45,"s":"4"},{"p":4,"k":"c","t":24.2,"v":1.06,"s":"10 fmol/µl"},{"p":4,"k":"g","t":0.12,"v":1.185,"s":"1"},
{"p":5,"k":"n","t":11.42,"v":4.53,"s":"1"},{"p":5,"k":"n","t":13.62,"v":4.53,"s":"2"},{"p":5,"k":"n","t":16.28,"v":2.6,"s":"4"},{"p":5,"k":"c","t":24.2,"v":5.72,"s":"5 fmol/µl"},{"p":5,"k":"g","t":0.12,"v":6.45,"s":"1"},
{"p":6,"k":"n","t":11.42,"v":2.13,"s":"1"},{"p":6,"k":"n","t":13.62,"v":2.13,"s":"2"},{"p":6,"k":"c","t":24.2,"v":2.6,"s":"2 fmol/µl"},{"p":6,"k":"g","t":0.12,"v":2.72,"s":"1"},
{"p":7,"k":"n","t":11.42,"v":1.41,"s":"1"},{"p":7,"k":"n","t":13.62,"v":1.41,"s":"2"},{"p":7,"k":"c","t":24.2,"v":1.58,"s":"1 fmol/µl"},{"p":7,"k":"g","t":0.12,"v":1.69,"s":"1"},
{"p":8,"k":"n","t":11.42,"v":1.07,"s":"1"},{"p":8,"k":"n","t":13.62,"v":1.07,"s":"2"},{"p":8,"k":"c","t":24.2,"v":1.15,"s":"0.5 fmol/µl"},{"p":8,"k":"g","t":0.12,"v":1.205,"s":"1"},
{"p":9,"k":"n","t":11.42,"v":8.3,"s":"1"},{"p":9,"k":"n","t":13.62,"v":8.3,"s":"2"},{"p":9,"k":"c","t":24.2,"v":3.03,"s":"0.2 fmol/µl"},{"p":9,"k":"g","t":0.12,"v":9.0,"s":"1"},
{"p":10,"k":"c","t":24.2,"v":3.0,"s":"0.1 fmol/µl"},{"p":10,"k":"g","t":0.12,"v":7.35,"s":"1"},
{"p":11,"k":"c","t":24.2,"v":2.95,"s":"0.05 fmol/µl"},{"p":11,"k":"g","t":0.12,"v":7.5,"s":"1"},
{"p":12,"k":"c","t":24.2,"v":3.26,"s":"0.02 fmol/µl"},{"p":12,"k":"g","t":0.12,"v":9.0,"s":"1"},
{"p":13,"k":"c","t":24.2,"v":2.23,"s":"0.01 fmol/µl"},{"p":13,"k":"g","t":0.12,"v":5.9,"s":"1"}
]
},
"spacing": 23.5,
"bounds": "flush",
"vconcat": [
{"title":{"text":"x10 ²\u00a0\u00a0+ESI TIC MRM Frag=135.0V (\"\" -> \"\") PH_20110409_Cal13A.d","dx":-25,"offset":1},"width":721,"height":102,
"encoding":{"x":{"field":"t","type":"quantitative","scale":{"domain":[0,24.5],"nice":false,"zero":false},"axis":{"values":[1,2,3,4,5,6,7,8,9,10,11,12,13,14,15,16,17,18,19,20,21,22,23,24],"labels":false,"ticks":false,"title":null}},
"y":{"field":"v","type":"quantitative","scale":{"domain":[-0.041,1.003],"nice":false,"zero":false},"axis":{"values":[0,0.2,0.4,0.6,0.8,1],"title":null}}},
"layer":[
{"data":{"name":"p1"},"mark":{"type":"line","color":"#1a1a1a","strokeWidth":1,"clip":true}},
{"data":{"name":"lab"},"transform":[{"filter":"datum.p==1 && datum.k=='n'"}],"mark":{"type":"text","style":"pk"},"encoding":{"text":{"field":"s"}}},
{"data":{"name":"lab"},"transform":[{"filter":"datum.p==1 && datum.k=='c'"}],"mark":{"type":"text","style":"cc"},"encoding":{"text":{"field":"s"}}},
{"data":{"name":"lab"},"transform":[{"filter":"datum.p==1 && datum.k=='g'"}],"mark":{"type":"text","style":"tg"},"encoding":{"text":{"field":"s"}}}
]},
{"title":{"text":"x10 ¹\u00a0\u00a0+ESI TIC MRM Frag=135.0V (\"\" -> \"\") PH_20110409_Cal12A.d","dx":-25,"offset":5},"width":721,"height":102,
"encoding":{"x":{"field":"t","type":"quantitative","scale":{"domain":[0,24.5],"nice":false,"zero":false},"axis":{"values":[1,2,3,4,5,6,7,8,9,10,11,12,13,14,15,16,17,18,19,20,21,22,23,24],"labels":false,"ticks":false,"title":null}},
"y":{"field":"v","type":"quantitative","scale":{"domain":[-0.24,5.85],"nice":false,"zero":false},"axis":{"values":[0,1,2,3,4,5],"title":null}}},
"layer":[
{"data":{"name":"p2"},"mark":{"type":"line","color":"#f23c3c","strokeWidth":1,"clip":true}},
{"data":{"name":"lab"},"transform":[{"filter":"datum.p==2 && datum.k=='n'"}],"mark":{"type":"text","style":"pk"},"encoding":{"text":{"field":"s"}}},
{"data":{"name":"lab"},"transform":[{"filter":"datum.p==2 && datum.k=='c'"}],"mark":{"type":"text","style":"cc"},"encoding":{"text":{"field":"s"}}},
{"data":{"name":"lab"},"transform":[{"filter":"datum.p==2 && datum.k=='g'"}],"mark":{"type":"text","style":"tg"},"encoding":{"text":{"field":"s"}}}
]},
{"title":{"text":"x10 ¹\u00a0\u00a0+ESI TIC MRM Frag=135.0V (\"\" -> \"\") PH_20110409_Cal11A.d","dx":-25,"offset":5},"width":721,"height":102,
"encoding":{"x":{"field":"t","type":"quantitative","scale":{"domain":[0,24.5],"nice":false,"zero":false},"axis":{"values":[1,2,3,4,5,6,7,8,9,10,11,12,13,14,15,16,17,18,19,20,21,22,23,24],"labels":false,"ticks":false,"title":null}},
"y":{"field":"v","type":"quantitative","scale":{"domain":[-0.102,2.5],"nice":false,"zero":false},"axis":{"values":[0,0.5,1,1.5,2],"title":null}}},
"layer":[
{"data":{"name":"p3"},"mark":{"type":"line","color":"#3a9a3a","strokeWidth":1,"clip":true}},
{"data":{"name":"lab"},"transform":[{"filter":"datum.p==3 && datum.k=='n'"}],"mark":{"type":"text","style":"pk"},"encoding":{"text":{"field":"s"}}},
{"data":{"name":"lab"},"transform":[{"filter":"datum.p==3 && datum.k=='c'"}],"mark":{"type":"text","style":"cc"},"encoding":{"text":{"field":"s"}}},
{"data":{"name":"lab"},"transform":[{"filter":"datum.p==3 && datum.k=='g'"}],"mark":{"type":"text","style":"tg"},"encoding":{"text":{"field":"s"}}}
]},
{"title":{"text":"x10 ¹\u00a0\u00a0+ESI TIC MRM Frag=135.0V (\"\" -> \"\") PH_20110409_Cal10A.d","dx":-25,"offset":5},"width":721,"height":102,
"encoding":{"x":{"field":"t","type":"quantitative","scale":{"domain":[0,24.5],"nice":false,"zero":false},"axis":{"values":[1,2,3,4,5,6,7,8,9,10,11,12,13,14,15,16,17,18,19,20,21,22,23,24],"labels":false,"ticks":false,"title":null}},
"y":{"field":"v","type":"quantitative","scale":{"domain":[-0.048,1.185],"nice":false,"zero":false},"axis":{"values":[0,0.2,0.4,0.6,0.8,1],"title":null}}},
"layer":[
{"data":{"name":"p4"},"mark":{"type":"line","color":"#2d2dd2","strokeWidth":1,"clip":true}},
{"data":{"name":"lab"},"transform":[{"filter":"datum.p==4 && datum.k=='n'"}],"mark":{"type":"text","style":"pk"},"encoding":{"text":{"field":"s"}}},
{"data":{"name":"lab"},"transform":[{"filter":"datum.p==4 && datum.k=='c'"}],"mark":{"type":"text","style":"cc"},"encoding":{"text":{"field":"s"}}},
{"data":{"name":"lab"},"transform":[{"filter":"datum.p==4 && datum.k=='g'"}],"mark":{"type":"text","style":"tg"},"encoding":{"text":{"field":"s"}}}
]},
{"title":{"text":"+ESI TIC MRM Frag=135.0V (\"\" -> \"\") PH_20110409_Cal09A.d","dx":1,"offset":5},"width":721,"height":102,
"encoding":{"x":{"field":"t","type":"quantitative","scale":{"domain":[0,24.5],"nice":false,"zero":false},"axis":{"values":[1,2,3,4,5,6,7,8,9,10,11,12,13,14,15,16,17,18,19,20,21,22,23,24],"labels":false,"ticks":false,"title":null}},
"y":{"field":"v","type":"quantitative","scale":{"domain":[-0.263,6.45],"nice":false,"zero":false},"axis":{"values":[0,1,2,3,4,5,6],"title":null}}},
"layer":[
{"data":{"name":"p5"},"mark":{"type":"line","color":"#9a3cc8","strokeWidth":1,"clip":true}},
{"data":{"name":"lab"},"transform":[{"filter":"datum.p==5 && datum.k=='n'"}],"mark":{"type":"text","style":"pk"},"encoding":{"text":{"field":"s"}}},
{"data":{"name":"lab"},"transform":[{"filter":"datum.p==5 && datum.k=='c'"}],"mark":{"type":"text","style":"cc"},"encoding":{"text":{"field":"s"}}},
{"data":{"name":"lab"},"transform":[{"filter":"datum.p==5 && datum.k=='g'"}],"mark":{"type":"text","style":"tg"},"encoding":{"text":{"field":"s"}}}
]},
{"title":{"text":"+ESI TIC MRM Frag=135.0V (\"\" -> \"\") PH_20110409_Cal08A.d","dx":1,"offset":5},"width":721,"height":102,
"encoding":{"x":{"field":"t","type":"quantitative","scale":{"domain":[0,24.5],"nice":false,"zero":false},"axis":{"values":[1,2,3,4,5,6,7,8,9,10,11,12,13,14,15,16,17,18,19,20,21,22,23,24],"labels":false,"ticks":false,"title":null}},
"y":{"field":"v","type":"quantitative","scale":{"domain":[-0.111,2.72],"nice":false,"zero":false},"axis":{"values":[0,0.5,1,1.5,2,2.5],"title":null}}},
"layer":[
{"data":{"name":"p6"},"mark":{"type":"line","color":"#bd4545","strokeWidth":1,"clip":true}},
{"data":{"name":"lab"},"transform":[{"filter":"datum.p==6 && datum.k=='n'"}],"mark":{"type":"text","style":"pk"},"encoding":{"text":{"field":"s"}}},
{"data":{"name":"lab"},"transform":[{"filter":"datum.p==6 && datum.k=='c'"}],"mark":{"type":"text","style":"cc"},"encoding":{"text":{"field":"s"}}},
{"data":{"name":"lab"},"transform":[{"filter":"datum.p==6 && datum.k=='g'"}],"mark":{"type":"text","style":"tg"},"encoding":{"text":{"field":"s"}}}
]},
{"title":{"text":"+ESI TIC MRM Frag=135.0V (\"\" -> \"\") PH_20110409_Cal07A.d","dx":1,"offset":5},"width":721,"height":102,
"encoding":{"x":{"field":"t","type":"quantitative","scale":{"domain":[0,24.5],"nice":false,"zero":false},"axis":{"values":[1,2,3,4,5,6,7,8,9,10,11,12,13,14,15,16,17,18,19,20,21,22,23,24],"labels":false,"ticks":false,"title":null}},
"y":{"field":"v","type":"quantitative","scale":{"domain":[-0.069,1.69],"nice":false,"zero":false},"axis":{"values":[0,0.25,0.5,0.75,1,1.25,1.5],"title":null}}},
"layer":[
{"data":{"name":"p7"},"mark":{"type":"line","color":"#5ed65e","strokeWidth":1,"clip":true}},
{"data":{"name":"lab"},"transform":[{"filter":"datum.p==7 && datum.k=='n'"}],"mark":{"type":"text","style":"pk"},"encoding":{"text":{"field":"s"}}},
{"data":{"name":"lab"},"transform":[{"filter":"datum.p==7 && datum.k=='c'"}],"mark":{"type":"text","style":"cc"},"encoding":{"text":{"field":"s"}}},
{"data":{"name":"lab"},"transform":[{"filter":"datum.p==7 && datum.k=='g'"}],"mark":{"type":"text","style":"tg"},"encoding":{"text":{"field":"s"}}}
]},
{"title":{"text":"+ESI TIC MRM Frag=135.0V (\"\" -> \"\") PH_20110409_Cal06A.d","dx":1,"offset":1},"width":721,"height":102,
"encoding":{"x":{"field":"t","type":"quantitative","scale":{"domain":[0,24.5],"nice":false,"zero":false},"axis":{"values":[1,2,3,4,5,6,7,8,9,10,11,12,13,14,15,16,17,18,19,20,21,22,23,24],"labels":false,"ticks":false,"title":null}},
"y":{"field":"v","type":"quantitative","scale":{"domain":[-0.049,1.205],"nice":false,"zero":false},"axis":{"values":[0,0.2,0.4,0.6,0.8,1,1.2],"title":null}}},
"layer":[
{"data":{"name":"p8"},"mark":{"type":"line","color":"#4a9af0","strokeWidth":1,"clip":true}},
{"data":{"name":"lab"},"transform":[{"filter":"datum.p==8 && datum.k=='n'"}],"mark":{"type":"text","style":"pk"},"encoding":{"text":{"field":"s"}}},
{"data":{"name":"lab"},"transform":[{"filter":"datum.p==8 && datum.k=='c'"}],"mark":{"type":"text","style":"cc"},"encoding":{"text":{"field":"s"}}},
{"data":{"name":"lab"},"transform":[{"filter":"datum.p==8 && datum.k=='g'"}],"mark":{"type":"text","style":"tg"},"encoding":{"text":{"field":"s"}}}
]},
{"title":{"text":"x10 ⁻¹\u00a0\u00a0+ESI TIC MRM Frag=135.0V (\"\" -> \"\") PH_20110409_Cal05A.d","dx":-28,"offset":5},"width":721,"height":102,
"encoding":{"x":{"field":"t","type":"quantitative","scale":{"domain":[0,24.5],"nice":false,"zero":false},"axis":{"values":[1,2,3,4,5,6,7,8,9,10,11,12,13,14,15,16,17,18,19,20,21,22,23,24],"labels":false,"ticks":false,"title":null}},
"y":{"field":"v","type":"quantitative","scale":{"domain":[-0.367,9.0],"nice":false,"zero":false},"axis":{"values":[0,2,4,6,8],"title":null}}},
"layer":[
{"data":{"name":"p9"},"mark":{"type":"line","color":"#ffa23a","strokeWidth":1,"clip":true}},
{"data":{"name":"lab"},"transform":[{"filter":"datum.p==9 && datum.k=='n'"}],"mark":{"type":"text","style":"pk"},"encoding":{"text":{"field":"s"}}},
{"data":{"name":"lab"},"transform":[{"filter":"datum.p==9 && datum.k=='c'"}],"mark":{"type":"text","style":"cc"},"encoding":{"text":{"field":"s"}}},
{"data":{"name":"lab"},"transform":[{"filter":"datum.p==9 && datum.k=='g'"}],"mark":{"type":"text","style":"tg"},"encoding":{"text":{"field":"s"}}}
]},
{"title":{"text":"x10 ⁻¹\u00a0\u00a0+ESI TIC MRM Frag=135.0V (\"\" -> \"\") PH_20110409_Cal04A.d","dx":-28,"offset":5},"width":721,"height":102,
"encoding":{"x":{"field":"t","type":"quantitative","scale":{"domain":[0,24.5],"nice":false,"zero":false},"axis":{"values":[1,2,3,4,5,6,7,8,9,10,11,12,13,14,15,16,17,18,19,20,21,22,23,24],"labels":false,"ticks":false,"title":null}},
"y":{"field":"v","type":"quantitative","scale":{"domain":[-0.3,7.35],"nice":false,"zero":false},"axis":{"values":[0,2,4,6],"title":null}}},
"layer":[
{"data":{"name":"p10"},"mark":{"type":"line","color":"#ff3cff","strokeWidth":1,"clip":true}},
{"data":{"name":"lab"},"transform":[{"filter":"datum.p==10 && datum.k=='c'"}],"mark":{"type":"text","style":"cc"},"encoding":{"text":{"field":"s"}}},
{"data":{"name":"lab"},"transform":[{"filter":"datum.p==10 && datum.k=='g'"}],"mark":{"type":"text","style":"tg"},"encoding":{"text":{"field":"s"}}}
]},
{"title":{"text":"x10 ⁻¹\u00a0\u00a0+ESI TIC MRM Frag=135.0V (\"\" -> \"\") PH_20110409_Cal03A.d","dx":-28,"offset":5},"width":721,"height":102,
"encoding":{"x":{"field":"t","type":"quantitative","scale":{"domain":[0,24.5],"nice":false,"zero":false},"axis":{"values":[1,2,3,4,5,6,7,8,9,10,11,12,13,14,15,16,17,18,19,20,21,22,23,24],"labels":false,"ticks":false,"title":null}},
"y":{"field":"v","type":"quantitative","scale":{"domain":[-0.306,7.5],"nice":false,"zero":false},"axis":{"values":[0,2,4,6],"title":null}}},
"layer":[
{"data":{"name":"p11"},"mark":{"type":"line","color":"#2e2e2e","strokeWidth":1,"clip":true}},
{"data":{"name":"lab"},"transform":[{"filter":"datum.p==11 && datum.k=='c'"}],"mark":{"type":"text","style":"cc"},"encoding":{"text":{"field":"s"}}},
{"data":{"name":"lab"},"transform":[{"filter":"datum.p==11 && datum.k=='g'"}],"mark":{"type":"text","style":"tg"},"encoding":{"text":{"field":"s"}}}
]},
{"title":{"text":"x10 ⁻¹\u00a0\u00a0+ESI TIC MRM Frag=135.0V (\"\" -> \"\") PH_20110409_Cal02A.d","dx":-28,"offset":5},"width":721,"height":102,
"encoding":{"x":{"field":"t","type":"quantitative","scale":{"domain":[0,24.5],"nice":false,"zero":false},"axis":{"values":[1,2,3,4,5,6,7,8,9,10,11,12,13,14,15,16,17,18,19,20,21,22,23,24],"labels":false,"ticks":false,"title":null}},
"y":{"field":"v","type":"quantitative","scale":{"domain":[-0.367,9.0],"nice":false,"zero":false},"axis":{"values":[0,2,4,6,8],"title":null}}},
"layer":[
{"data":{"name":"p12"},"mark":{"type":"line","color":"#ff3535","strokeWidth":1,"clip":true}},
{"data":{"name":"lab"},"transform":[{"filter":"datum.p==12 && datum.k=='c'"}],"mark":{"type":"text","style":"cc"},"encoding":{"text":{"field":"s"}}},
{"data":{"name":"lab"},"transform":[{"filter":"datum.p==12 && datum.k=='g'"}],"mark":{"type":"text","style":"tg"},"encoding":{"text":{"field":"s"}}}
]},
{"title":{"text":"x10 ⁻¹\u00a0\u00a0+ESI TIC MRM Frag=135.0V (\"\" -> \"\") PH_20110409_Cal01A.d","dx":-28,"offset":5},"width":721,"height":102,
"encoding":{"x":{"field":"t","type":"quantitative","scale":{"domain":[0,24.5],"nice":false,"zero":false},"axis":{"values":[1,2,3,4,5,6,7,8,9,10,11,12,13,14,15,16,17,18,19,20,21,22,23,24],"title":"Counts [%] vs. Acquisition Time [min]","titleX":382,"titleAlign":"center","labelPadding":1,"titlePadding":0}},
"y":{"field":"v","type":"quantitative","scale":{"domain":[-0.241,5.9],"nice":false,"zero":false},"axis":{"values":[0,1,2,3,4,5],"title":null}}},
"layer":[
{"data":{"name":"p13"},"mark":{"type":"line","color":"#2f962f","strokeWidth":1,"clip":true}},
{"data":{"name":"lab"},"transform":[{"filter":"datum.p==13 && datum.k=='c'"}],"mark":{"type":"text","style":"cc"},"encoding":{"text":{"field":"s"}}},
{"data":{"name":"lab"},"transform":[{"filter":"datum.p==13 && datum.k=='g'"}],"mark":{"type":"text","style":"tg"},"encoding":{"text":{"field":"s"}}}
]}
],
"config": {
"view": {"stroke": null},
"font": "Liberation Sans",
"title": {"anchor": "start", "frame": "group", "fontSize": 9.5, "fontWeight": "normal", "color": "#222", "font": "Liberation Sans"},
"axis": {"grid": true, "gridColor": "#e2e2e2", "gridWidth": 1, "labelFont": "Liberation Sans", "labelFontSize": 9, "labelColor": "#333", "tickColor": "#555", "tickSize": 3, "labelPadding": 2},
"axisY": {"domainColor": "#3a3a3a", "domainWidth": 2, "format": "~g"},
"axisX": {"domainColor": "#d4d0c8", "domainWidth": 2, "titleFontSize": 8.5, "titleFontWeight": "normal", "titleColor": "#333", "titleFont": "Liberation Sans"},
"style": {
"pk": {"font": "Liberation Serif", "fontWeight": "bold", "fontSize": 31, "align": "center", "baseline": "middle", "fill": "#000"},
"cc": {"font": "Liberation Serif", "fontWeight": "bold", "fontSize": 31, "align": "right", "baseline": "middle", "fill": "#000"},
"tg": {"font": "Liberation Sans", "fontSize": 8, "align": "left", "baseline": "top", "fill": "#999"}
}
}
}
